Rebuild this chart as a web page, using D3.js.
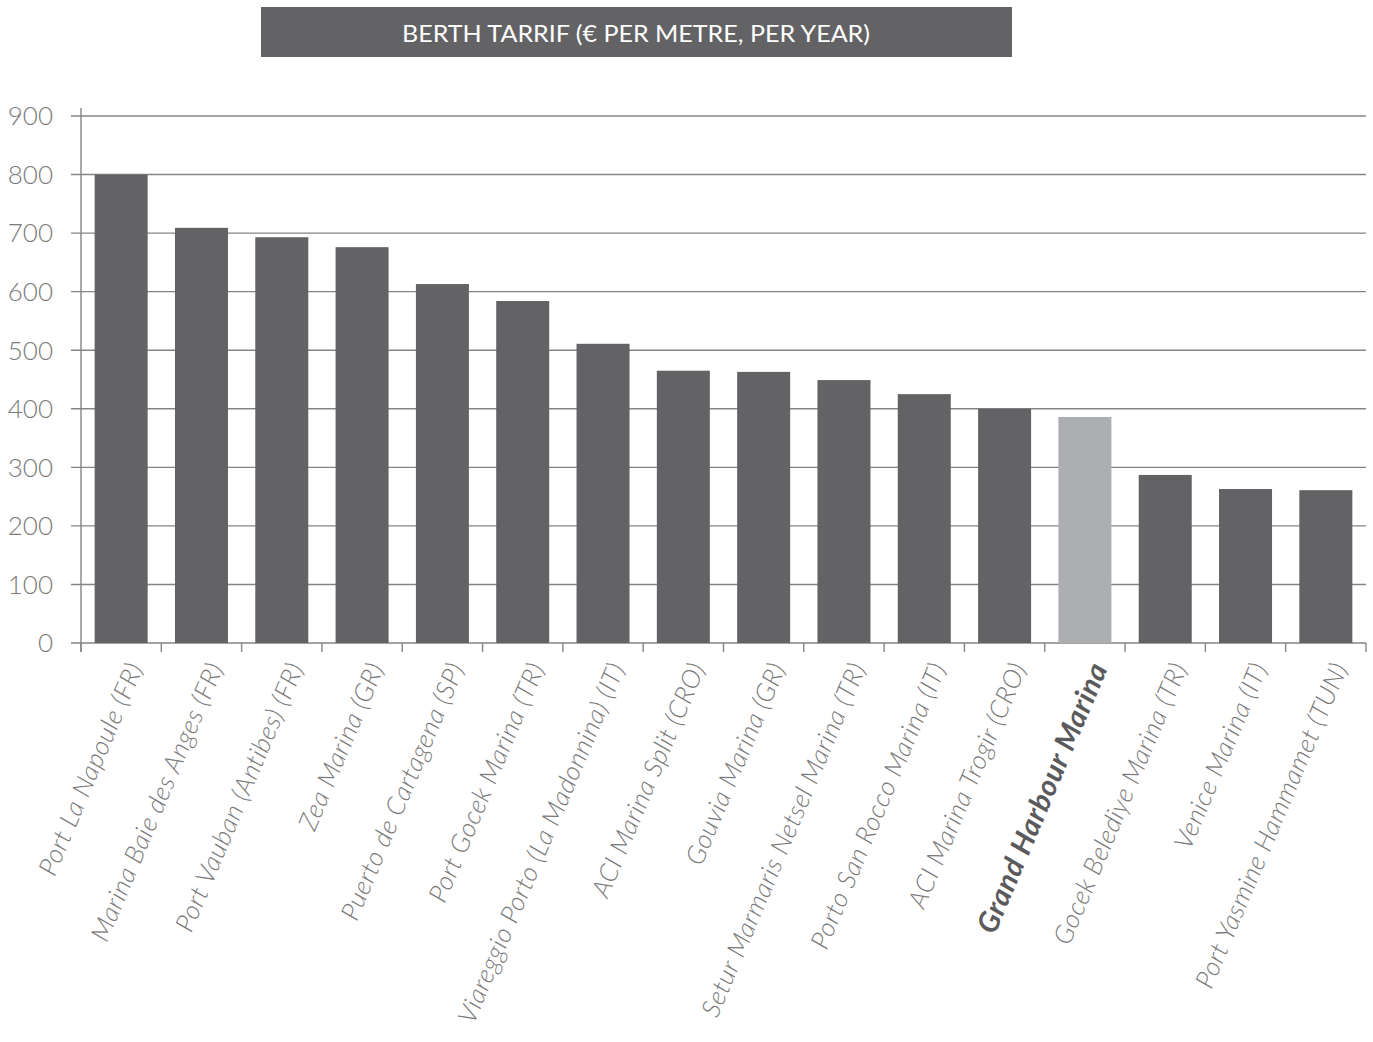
<!DOCTYPE html>
<html><head><meta charset="utf-8">
<script src="https://cdn.jsdelivr.net/npm/d3@7"></script>
<style>body{margin:0;background:#fff;}svg{display:block;}</style>
</head><body>
<svg id="chart" width="1373" height="1042"></svg>
<script>
const categories = ["Port La Napoule (FR)","Marina Baie des Anges (FR)","Port Vauban (Antibes) (FR)","Zea Marina (GR)","Puerto de Cartagena (SP)","Port Gocek Marina (TR)","Viareggio Porto (La Madonnina) (IT)","ACI Marina Split (CRO)","Gouvia Marina (GR)","Setur Marmaris Netsel Marina (TR)","Porto San Rocco Marina (IT)","ACI Marina Trogir (CRO)","Grand Harbour Marina","Gocek Belediye Marina (TR)","Venice Marina (IT)","Port Yasmine Hammamet (TUN)"];
const values = [800,709,693,676,613,584,511,465,463,449,425,400,386,287,263,261];
const highlight = "Grand Harbour Marina";
const yTicks = [0,100,200,300,400,500,600,700,800,900];
const title = "BERTH TARRIF (€ PER METRE, PER YEAR)";

const svg = d3.select("#chart");
const pL = 81, pR = 1366, pT = 116, pB = 643;
const x = d3.scaleBand().domain(categories).range([pL, pR]).paddingInner(0.34).paddingOuter(0.17);
const y = d3.scaleLinear().domain([0, 900]).range([pB, pT]);

// title box
svg.append("rect").attr("x",261).attr("y",7).attr("width",751).attr("height",50).attr("fill","#636365");
svg.append("text").attr("x",636).attr("y",42).attr("text-anchor","middle")
  .attr("fill","#fff").attr("font-family","Lato, sans-serif").attr("font-size",23)
  .attr("textLength",468).attr("lengthAdjust","spacingAndGlyphs").text(title);

// gridlines
svg.append("g").selectAll("line").data(yTicks).join("line")
  .attr("x1",71).attr("x2",pR).attr("y1",d=>y(d)).attr("y2",d=>y(d))
  .attr("stroke","#858585").attr("stroke-width",1.4);

// bars
svg.append("g").selectAll("rect").data(categories).join("rect")
  .attr("x",d=>x(d)).attr("width",x.bandwidth())
  .attr("y",(d,i)=>y(values[i])).attr("height",(d,i)=>y(0)-y(values[i]))
  .attr("fill",d=>d===highlight?"#adaeb1":"#636365");

// y axis line
svg.append("line").attr("x1",pL).attr("x2",pL).attr("y1",108).attr("y2",652)
  .attr("stroke","#858585").attr("stroke-width",1.4);

// x tick marks at band boundaries
const bounds = d3.range(categories.length+1).map(i=>pL + i*(pR-pL)/categories.length);
svg.append("g").selectAll("line").data(bounds).join("line")
  .attr("x1",d=>d).attr("x2",d=>d).attr("y1",pB).attr("y2",652)
  .attr("stroke","#858585").attr("stroke-width",1.4);

// y labels
svg.append("g").selectAll("text").data(yTicks).join("text")
  .attr("x",53).attr("y",d=>y(d)).attr("dy","0.36em").attr("text-anchor","end")
  .attr("fill","#7a7a7a").attr("font-family","Lato, sans-serif").attr("font-weight",300)
  .attr("font-size",26).text(d=>d);

// x labels
svg.append("g").selectAll("text").data(categories).join("text")
  .attr("transform",d=>`translate(${x(d)+x.bandwidth()/2+14},664) rotate(-67)`)
  .attr("text-anchor","end").attr("dy","0.35em")
  .attr("fill",d=>d===highlight?"#5a5a5c":"#7a7a7a")
  .attr("font-family","Lato, sans-serif")
  .attr("font-style","italic")
  .attr("font-weight",d=>d===highlight?700:300)
  .attr("font-size",d=>d===highlight?29:26)
  .attr("letter-spacing",d=>d===highlight?0.6:0.5)
  .text(d=>d);
</script>
</body></html>
